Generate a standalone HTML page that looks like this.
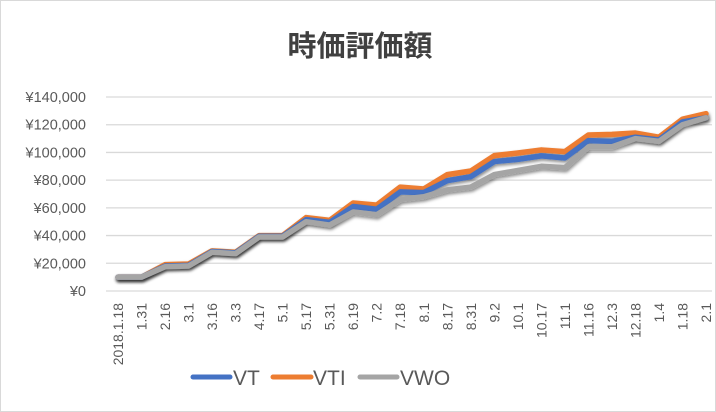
<!DOCTYPE html>
<html><head><meta charset="utf-8"><style>
body{margin:0;background:#fff;}
svg{display:block;font-family:"Liberation Sans","Noto Sans CJK JP",sans-serif;}
</style></head><body>
<svg id="chart" width="716" height="412" viewBox="0 0 716 412">
<defs><filter id="sh" x="-5%" y="-5%" width="110%" height="120%"><feDropShadow dx="1" dy="2" stdDeviation="1.5" flood-color="#000" flood-opacity="0.45"/></filter></defs>
<rect x="0.5" y="0.5" width="715" height="411" fill="#fff" stroke="#d9d9d9"/>
<text x="360" y="56" text-anchor="middle" font-size="29" font-weight="bold" fill="#404040">時価評価額</text>
<g id="grid"></g><g id="ylab"></g><g id="xlab"></g><g id="lines"></g>
<g>
<g><line x1="193" y1="377" x2="230" y2="377" stroke="#4472C4" stroke-width="5" stroke-linecap="round"/><text x="233" y="385" font-size="21" fill="#595959">VT</text></g>
<g><line x1="273" y1="377" x2="311" y2="377" stroke="#ED7D31" stroke-width="5" stroke-linecap="round"/><text x="313" y="385" font-size="21" fill="#595959">VTI</text></g>
<g><line x1="360" y1="377" x2="397" y2="377" stroke="#A5A5A5" stroke-width="5" stroke-linecap="round"/><text x="400" y="385" font-size="21" fill="#595959">VWO</text></g>
</g>
</svg>
<script>
const categories=["2018.1.18","1.31","2.16","3.1","3.16","3.3","4.17","5.1","5.17","5.31","6.19","7.2","7.18","8.1","8.17","8.31","9.2","10.1","10.17","11.1","11.16","12.3","12.18","1.4","1.18","2.1"];
const vwo=[10000,10000,17500,18000,28000,27000,39000,39000,50000,47600,57000,55000,66000,68000,73000,75000,84000,87000,90000,89000,104000,104000,110000,108000,120000,125000];
const vt=[10000,10000,18000,18500,28500,27500,39500,39500,51500,49500,61000,59000,71500,71000,79600,82500,93400,95000,97500,96000,108500,108000,111000,109000,122000,125000];
const vti=[10000,10000,19000,19500,29000,28000,40000,40000,53000,51000,63500,62000,75000,73600,84000,86600,97700,99600,101800,100600,112600,113000,114000,111000,124000,128000];
const yTicks=[0,20000,40000,60000,80000,100000,120000,140000];
const yTickLabels=["¥0","¥20,000","¥40,000","¥60,000","¥80,000","¥100,000","¥120,000","¥140,000"];
const NS="http://www.w3.org/2000/svg";
function y(v){return 291-v/140000*194;}
function x(i){return 118+i*23.52;}
function mk(t,a,p){const e=document.createElementNS(NS,t);for(const k in a)e.setAttribute(k,a[k]);p.appendChild(e);return e;}
const grid=document.getElementById('grid'),yl=document.getElementById('ylab'),xl=document.getElementById('xlab'),ln=document.getElementById('lines');
yTicks.forEach((v,i)=>{
 const g=mk('line',{x1:106,x2:712,y1:y(v),y2:y(v),stroke:'#d9d9d9','stroke-width':1.3},grid);
 
 
 const t=mk('text',{x:86,y:y(v)+5,'text-anchor':'end','font-size':14.5,fill:'#595959'},yl);
 t.textContent=yTickLabels[i];
 
 
});
categories.forEach((c,i)=>{
 const t=mk('text',{transform:`translate(${x(i)+5},303) rotate(-90)`,'text-anchor':'end','font-size':14,fill:'#595959'},xl);
 t.textContent=c;
 
 
});
[[vti,'#ED7D31','vti'],[vt,'#4472C4','vt'],[vwo,'#A5A5A5','vwo']].forEach(([d,col,n])=>{
 const p=mk('polyline',{points:d.map((v,i)=>x(i)+','+y(v)).join(' '),fill:'none',stroke:col,'stroke-width':5.5,'stroke-linejoin':'round','stroke-linecap':'round',filter:'url(#sh)'},ln);
 
 
});
</script>
</body></html>
